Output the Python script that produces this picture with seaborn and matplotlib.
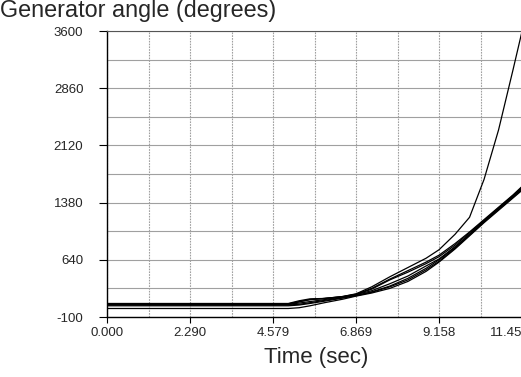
import matplotlib
matplotlib.use("Agg")
import matplotlib.pyplot as plt
import seaborn as sns
import pandas as pd
import numpy as np

sns.set_style("white")
plt.rcParams['font.family'] = ['Liberation Sans', 'DejaVu Sans']

time = [0.0, 5.0, 5.3, 5.6, 6.0, 6.5, 6.869, 7.3, 7.8, 8.3, 8.8, 9.158, 9.6, 10.0, 10.4, 10.8, 11.2, 11.45]

curve_a = [75, 75, 110, 135, 140, 160, 190, 260, 380, 480, 590, 680, 830, 990, 1150, 1310, 1470, 1570]
curve_b = [70, 70, 100, 125, 140, 165, 195, 270, 390, 500, 610, 700, 850, 1000, 1160, 1320, 1480, 1590]
curve_c = [65, 65, 80, 100, 125, 160, 190, 240, 330, 430, 560, 650, 810, 970, 1140, 1310, 1470, 1580]
curve_d = [55, 55, 65, 85, 115, 150, 180, 225, 300, 400, 530, 640, 800, 970, 1140, 1300, 1460, 1560]
curve_e = [45, 45, 55, 75, 105, 145, 175, 220, 290, 380, 510, 620, 790, 960, 1130, 1290, 1450, 1550]
curve_f = [10, 10, 20, 45, 85, 130, 170, 210, 270, 360, 490, 610, 780, 950, 1120, 1280, 1440, 1540]
curve_g = [60, 60, 95, 125, 140, 165, 200, 290, 420, 540, 660, 770, 970, 1190, 1680, 2320, 3100, 3600]

curves = {"a": curve_a, "b": curve_b, "c": curve_c, "d": curve_d,
          "e": curve_e, "f": curve_f, "g": curve_g}

x_ticks = [0.0, 2.2896, 4.5792, 6.8688, 9.1584, 11.448]
x_labels = ["0.000", "2.290", "4.579", "6.869", "9.158", "11.45"]
y_ticks = [-100, 640, 1380, 2120, 2860, 3600]
y_labels = ["-100", "640", "1380", "2120", "2860", "3600"]

rows = []
for name, vals in curves.items():
    for t, v in zip(time, vals):
        rows.append({"curve": name, "t": t, "v": v})
df = pd.DataFrame(rows)

fig = plt.figure(figsize=(5.21, 3.77), dpi=100)
ax = fig.add_axes([107/521, 1 - 317/377, 1 - 107/521 + 0.002, (317 - 31)/377])

sns.lineplot(data=df, x="t", y="v", units="curve", estimator=None,
             color="black", linewidth=0.9, ax=ax, legend=False)

ax.set_xlim(0, 11.448)
ax.set_ylim(-100, 3600)
ax.set_xticks(x_ticks)
ax.set_xticklabels(x_labels)
ax.set_yticks(y_ticks)
ax.set_yticklabels(y_labels)
ax.set_xticks([(x_ticks[i] + x_ticks[i+1]) / 2 for i in range(5)], minor=True)
ax.set_yticks([(y_ticks[i] + y_ticks[i+1]) / 2 for i in range(5)], minor=True)

ax.grid(True, which="both", axis="y", color="#a0a0a0", linewidth=0.8)
ax.grid(True, which="both", axis="x", color="#a0a0a0", linewidth=0.8, linestyle=(0, (1.5, 1)))
ax.set_axisbelow(True)

ax.tick_params(axis="both", which="major", labelsize=9.5, width=0.8,
               color="black", direction="out", bottom=True, left=True)
ax.tick_params(axis="both", which="minor", length=0)
ax.tick_params(axis="y", which="major", length=6, pad=11)
ax.tick_params(axis="x", which="major", length=4.5, pad=3)

last = ax.get_xticklabels()[-1]
last.set_horizontalalignment("right")

for s in ["left", "bottom"]:
    ax.spines[s].set_color("black")
    ax.spines[s].set_linewidth(1.0)
ax.spines["top"].set_color("#555555")
ax.spines["top"].set_linewidth(0.8)
ax.spines["right"].set_visible(False)

ax.set_xlabel("")
ax.set_ylabel("")
fig.text(316/521, 1 - 357/377, "Time (sec)", fontsize=16, ha="center", va="center")
fig.text(0.0, 1 - 17/377, "Generator angle (degrees)", fontsize=16.8, ha="left", va="baseline")

fig.savefig("out.png", dpi=100)
